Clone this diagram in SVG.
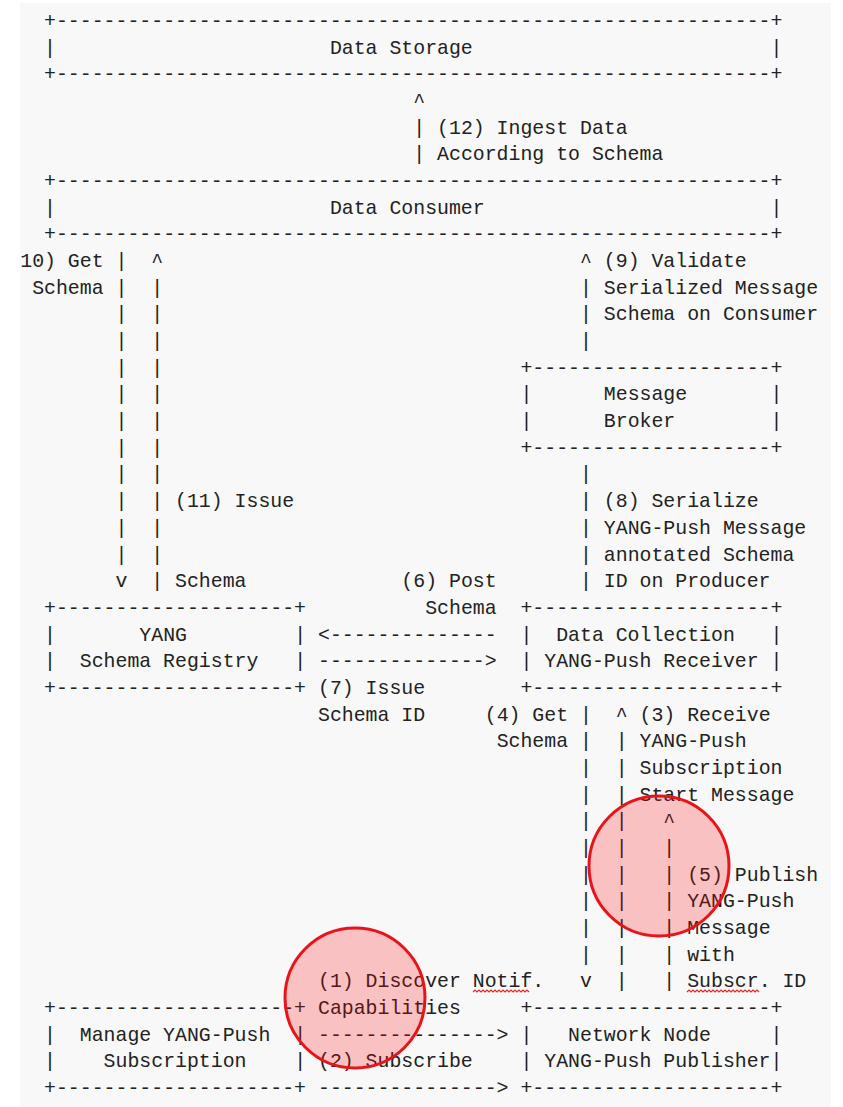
<svg xmlns="http://www.w3.org/2000/svg" width="843" height="1107" viewBox="0 0 843 1107">
<style>
text{font-family:"Liberation Mono","DejaVu Sans Mono",monospace;font-size:19.85px;fill:#222}
.mark{fill:rgba(255,0,0,0.22);stroke:#e8141a;stroke-width:3}
.sq{fill:none;stroke:#e8262a;stroke-width:1.2}
</style>
<rect x="0" y="0" width="843" height="1107" fill="#ffffff"/>
<rect x="20" y="3" width="811" height="1104" fill="#f8f8f8"/>

<g id="node-data-storage">
<text x="44.05" y="27">+------------------------------------------------------------+</text>
<text x="44.05" y="53.68">|</text><text x="329.89" y="53.68">Data Storage</text><text x="770.56" y="53.68">|</text>
<text x="44.05" y="80.35">+------------------------------------------------------------+</text>
</g>

<g id="node-data-consumer">
<text x="44.05" y="187.05">+------------------------------------------------------------+</text>
<text x="44.05" y="213.73">|</text><text x="329.89" y="213.73">Data Consumer</text><text x="770.56" y="213.73">|</text>
<text x="44.05" y="240.4">+------------------------------------------------------------+</text>
</g>

<g id="node-message-broker">
<text x="520.45" y="373.78">+--------------------+</text>
<text x="520.45" y="400.45">|</text><text x="603.82" y="400.45">Message</text><text x="770.56" y="400.45">|</text>
<text x="520.45" y="427.13">|</text><text x="603.82" y="427.13">Broker</text><text x="770.56" y="427.13">|</text>
<text x="520.45" y="453.8">+--------------------+</text>
</g>

<g id="node-schema-registry">
<text x="44.05" y="613.85">+--------------------+</text>
<text x="44.05" y="640.53">|</text><text x="139.33" y="640.53">YANG</text><text x="294.16" y="640.53">|</text>
<text x="44.05" y="667.2">|</text><text x="79.78" y="667.2">Schema Registry</text><text x="294.16" y="667.2">|</text>
<text x="44.05" y="693.88">+--------------------+</text>
</g>

<g id="node-data-collection">
<text x="520.45" y="613.85">+--------------------+</text>
<text x="520.45" y="640.53">|</text><text x="556.18" y="640.53">Data Collection</text><text x="770.56" y="640.53">|</text>
<text x="520.45" y="667.2">|</text><text x="544.27" y="667.2">YANG-Push Receiver</text><text x="770.56" y="667.2">|</text>
<text x="520.45" y="693.88">+--------------------+</text>
</g>

<g id="node-manage-subscription">
<text x="44.05" y="1013.98">+--------------------+</text>
<text x="44.05" y="1040.65">|</text><text x="79.78" y="1040.65">Manage YANG-Push</text><text x="294.16" y="1040.65">|</text>
<text x="44.05" y="1067.33">|</text><text x="103.6" y="1067.33">Subscription</text><text x="294.16" y="1067.33">|</text>
<text x="44.05" y="1094">+--------------------+</text>
</g>

<g id="node-network-node">
<text x="520.45" y="1013.98">+--------------------+</text>
<text x="520.45" y="1040.65">|</text><text x="568.09" y="1040.65">Network Node</text><text x="770.56" y="1040.65">|</text>
<text x="520.45" y="1067.33">|</text><text x="544.27" y="1067.33">YANG-Push Publisher</text><text x="770.56" y="1067.33">|</text>
<text x="520.45" y="1094">+--------------------+</text>
</g>

<g id="connectors">
<!-- (12) Ingest Data -->
<g id="c12">
<text x="413.26" y="107.03">^</text>
<text x="413.26" y="133.7">|</text>
<text x="413.26" y="160.38">|</text>
<text x="437.08" y="133.7">(12) Ingest Data</text>
<text x="437.08" y="160.38">According to Schema</text>
</g>
<!-- (10) Get Schema -->
<g id="c10">
<text x="20.23" y="267.08">10) Get</text>
<text x="32.14" y="293.75">Schema</text>
<text x="115.51" y="267.08">|</text><text x="115.51" y="293.75">|</text><text x="115.51" y="320.43">|</text><text x="115.51" y="347.1">|</text>
<text x="115.51" y="373.78">|</text><text x="115.51" y="400.45">|</text><text x="115.51" y="427.13">|</text><text x="115.51" y="453.8">|</text>
<text x="115.51" y="480.48">|</text><text x="115.51" y="507.15">|</text><text x="115.51" y="533.83">|</text><text x="115.51" y="560.5">|</text>
<text x="115.51" y="587.18">v</text>
</g>
<!-- (11) Issue Schema -->
<g id="c11">
<text x="151.24" y="267.08">^</text>
<text x="151.24" y="293.75">|</text><text x="151.24" y="320.43">|</text><text x="151.24" y="347.1">|</text>
<text x="151.24" y="373.78">|</text><text x="151.24" y="400.45">|</text><text x="151.24" y="427.13">|</text><text x="151.24" y="453.8">|</text>
<text x="151.24" y="480.48">|</text><text x="151.24" y="507.15">|</text><text x="151.24" y="533.83">|</text><text x="151.24" y="560.5">|</text>
<text x="151.24" y="587.18">|</text>
<text x="175.06" y="507.15">(11) Issue</text>
<text x="175.06" y="587.18">Schema</text>
</g>
<!-- (9) Validate -->
<g id="c9">
<text x="580" y="267.08">^</text>
<text x="580" y="293.75">|</text><text x="580" y="320.43">|</text><text x="580" y="347.1">|</text>
<text x="603.82" y="267.08">(9) Validate</text>
<text x="603.82" y="293.75">Serialized Message</text>
<text x="603.82" y="320.43">Schema on Consumer</text>
</g>
<!-- (8) Serialize -->
<g id="c8">
<text x="580" y="480.48">|</text><text x="580" y="507.15">|</text><text x="580" y="533.83">|</text><text x="580" y="560.5">|</text><text x="580" y="587.18">|</text>
<text x="603.82" y="507.15">(8) Serialize</text>
<text x="603.82" y="533.83">YANG-Push Message</text>
<text x="603.82" y="560.5">annotated Schema</text>
<text x="603.82" y="587.18">ID on Producer</text>
</g>
<!-- (6) Post Schema -->
<g id="c6">
<text x="401.35" y="587.18">(6) Post</text>
<text x="425.17" y="613.85">Schema</text>
<text x="317.98" y="640.53">&lt;--------------</text>
</g>
<!-- (7) Issue Schema ID -->
<g id="c7">
<text x="317.98" y="667.2">--------------&gt;</text>
<text x="317.98" y="693.88">(7) Issue</text>
<text x="317.98" y="720.55">Schema ID</text>
</g>
<!-- (4) Get Schema -->
<g id="c4">
<text x="484.72" y="720.55">(4) Get</text>
<text x="496.63" y="747.23">Schema</text>
<text x="580" y="720.55">|</text><text x="580" y="747.23">|</text><text x="580" y="773.9">|</text><text x="580" y="800.58">|</text>
<text x="580" y="827.25">|</text><text x="580" y="853.93">|</text><text x="580" y="880.6">|</text><text x="580" y="907.28">|</text>
<text x="580" y="933.95">|</text><text x="580" y="960.63">|</text>
<text x="580" y="987.3">v</text>
</g>
<!-- (3) Receive -->
<g id="c3">
<text x="615.73" y="720.55">^</text>
<text x="615.73" y="747.23">|</text><text x="615.73" y="773.9">|</text><text x="615.73" y="800.58">|</text>
<text x="615.73" y="827.25">|</text><text x="615.73" y="853.93">|</text><text x="615.73" y="880.6">|</text><text x="615.73" y="907.28">|</text>
<text x="615.73" y="933.95">|</text><text x="615.73" y="960.63">|</text><text x="615.73" y="987.3">|</text>
<text x="639.55" y="720.55">(3) Receive</text>
<text x="639.55" y="747.23">YANG-Push</text>
<text x="639.55" y="773.9">Subscription</text>
<text x="639.55" y="800.58">Start Message</text>
</g>
<!-- (5) Publish -->
<g id="c5">
<text x="663.37" y="827.25">^</text>
<text x="663.37" y="853.93">|</text><text x="663.37" y="880.6">|</text><text x="663.37" y="907.28">|</text>
<text x="663.37" y="933.95">|</text><text x="663.37" y="960.63">|</text><text x="663.37" y="987.3">|</text>
<text x="687.19" y="880.6">(5) Publish</text>
<text x="687.19" y="907.28">YANG-Push</text>
<text x="687.19" y="933.95">Message</text>
<text x="687.19" y="960.63">with</text>
<text x="687.19" y="987.3">Subscr. ID</text>
</g>
<!-- (1) Discover -->
<g id="c1">
<text x="317.98" y="987.3">(1) Discover Notif.</text>
<text x="317.98" y="1013.98">Capabilities</text>
<text x="317.98" y="1040.65">---------------&gt;</text>
</g>
<!-- (2) Subscribe -->
<g id="c2">
<text x="317.98" y="1067.33">(2) Subscribe</text>
<text x="317.98" y="1094">---------------&gt;</text>
</g>
</g>

<g id="annotations">
<path class="sq" d="M473 992 l2 -2 l2 2 l2 -2 l2 2 l2 -2 l2 2 l2 -2 l2 2 l2 -2 l2 2 l2 -2 l2 2 l2 -2 l2 2 l2 -2 l2 2 l2 -2 l2 2 l2 -2 l2 2 l2 -2 l2 2 l2 -2 l2 2 l2 -2 l2 2 l2 -2 l2 2"/>
<path class="sq" d="M687 992 l2 -2 l2 2 l2 -2 l2 2 l2 -2 l2 2 l2 -2 l2 2 l2 -2 l2 2 l2 -2 l2 2 l2 -2 l2 2 l2 -2 l2 2 l2 -2 l2 2 l2 -2 l2 2 l2 -2 l2 2 l2 -2 l2 2 l2 -2 l2 2 l2 -2 l2 2 l2 -2 l2 2 l2 -2 l2 2 l2 -2 l2 2 l2 -2 l2 2"/>
<circle class="mark" cx="355" cy="998" r="70"/>
<circle class="mark" cx="659" cy="866" r="70"/>
</g>
</svg>
